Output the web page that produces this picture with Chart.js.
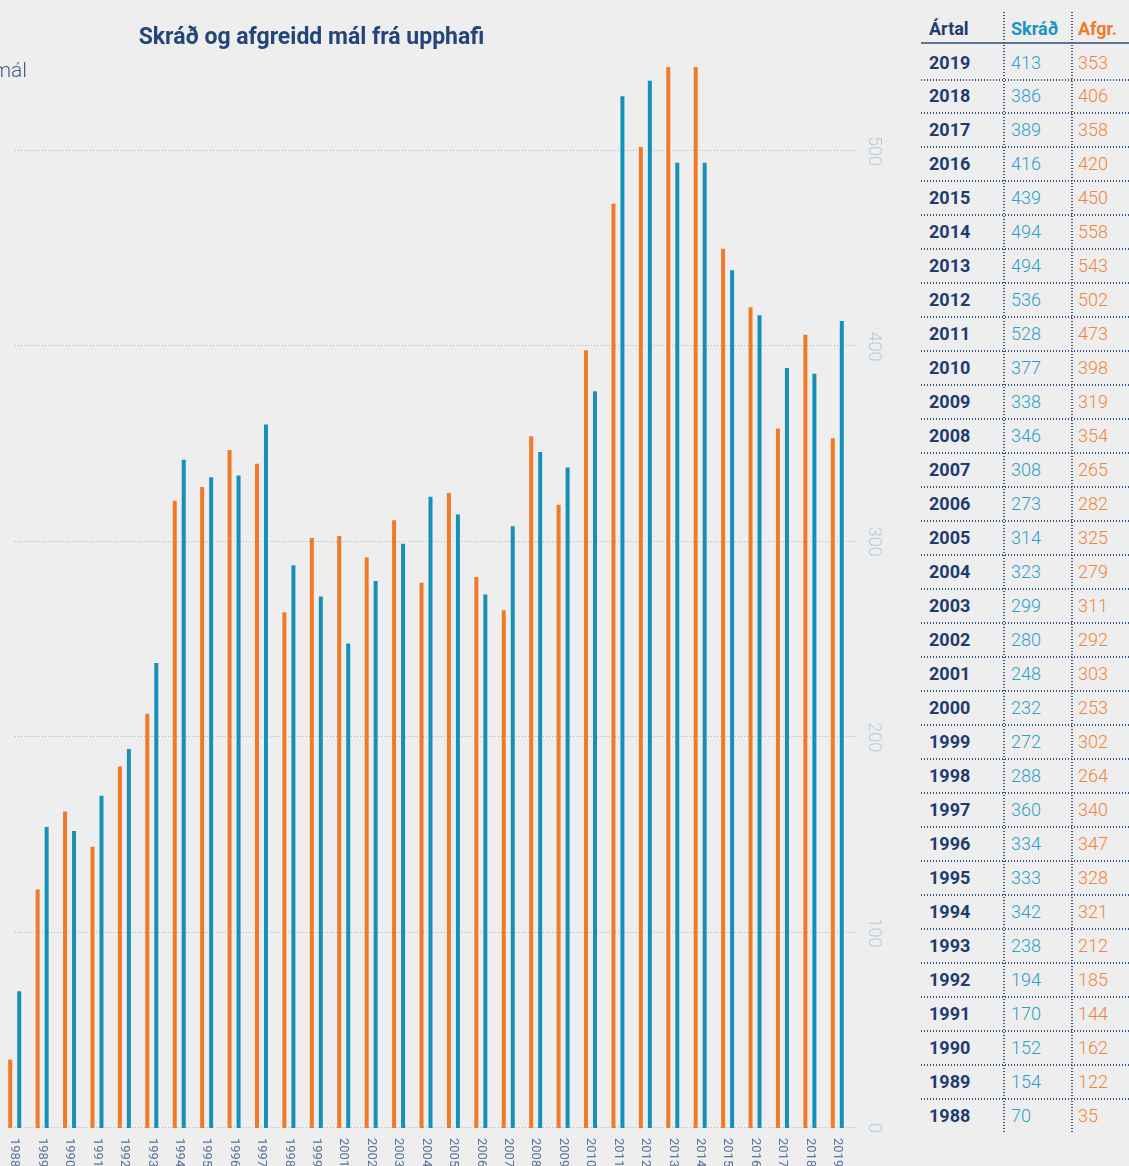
<!DOCTYPE html>
<html>
<head>
<meta charset="utf-8">
<script src="https://cdn.jsdelivr.net/npm/chart.js@4.4.1/dist/chart.umd.min.js"></script>
<style>
  html, body { margin:0; padding:0; background:#eeeeee; width:1129px; height:1166px; overflow:hidden; font-family: Roboto, "Noto Sans", sans-serif; }
  #wrap { position:relative; width:1129px; height:1166px; }
  #chart { position:absolute; left:0; top:0; }
  .abs { position:absolute; white-space:nowrap; }
  #title { left:0; width:623px; top:22px; text-align:center; font-weight:700; font-size:23px; color:#234578; line-height:30px; }
  #unit { right:1102px; top:57px; font-weight:300; font-size:21px; color:#3e5d8c; line-height:26px; }
  .hline { position:absolute; height:2px; background-image:linear-gradient(to right, #3a5685 0, #3a5685 1px, transparent 1px); background-size:3px 2px; background-repeat:repeat-x; }
  .vline { position:absolute; width:2px; background-image:linear-gradient(to bottom, #3a5685 0, #3a5685 1px, transparent 1px); background-size:2px 3px; background-repeat:repeat-y; }
  .cell { position:absolute; font-size:18px; line-height:20px; }
</style>
</head>
<body>
<div id="wrap">
  <canvas id="chart" width="910" height="1166"></canvas>
  <div id="title" class="abs">Skráð og afgreidd mál frá upphafi</div>
  <div id="unit" class="abs">mál</div>
  <div id="table"></div>
</div>
<script>
// ---- Data ----
const years = [1988,1989,1990,1991,1992,1993,1994,1995,1996,1997,1998,1999,2000,2001,2002,2003,2004,2005,2006,2007,2008,2009,2010,2011,2012,2013,2014,2015,2016,2017,2018,2019];
const skrad = [70,154,152,170,194,238,342,333,334,360,288,272,232,248,280,299,323,314,273,308,346,338,377,528,536,494,494,439,416,389,386,413];
const afgr  = [35,122,162,144,185,212,321,328,347,340,264,302,253,303,292,311,279,325,282,265,354,319,398,473,502,543,558,450,420,358,406,353];
const omittedInChart = [2000];
const yTicks = [0,100,200,300,400,500];
const headerLabels = ['Ártal','Skráð','Afgr.'];

const ORANGE = '#f07a28';
const BLUE = '#1590b8';

const chartYears = years.filter(y => !omittedInChart.includes(y));
const chartSkrad = chartYears.map(y => skrad[years.indexOf(y)]);
const chartAfgr  = chartYears.map(y => afgr[years.indexOf(y)]);

const decor = {
  id: 'decor',
  beforeDatasetsDraw(chart) {
    const ctx = chart.ctx, ys = chart.scales.y;
    ctx.save();
    ctx.strokeStyle = '#a3b8c9';
    ctx.lineWidth = 1;
    ctx.setLineDash([1,2]);
    yTicks.forEach(v => {
      const y = Math.round(ys.getPixelForValue(v)) - 0.5;
      ctx.beginPath(); ctx.moveTo(15, y); ctx.lineTo(856, y); ctx.stroke();
    });
    ctx.restore();
  },
  afterDraw(chart) {
    const ctx = chart.ctx, ys = chart.scales.y, xs = chart.scales.x;
    ctx.save();
    ctx.fillStyle = '#b4cbdf';
    ctx.font = '300 18px Roboto';
    ctx.textAlign = 'center'; ctx.textBaseline = 'middle';
    yTicks.forEach(v => {
      const y = ys.getPixelForValue(v);
      ctx.save(); ctx.translate(873, y); ctx.rotate(Math.PI/2); ctx.fillText(String(v), 0, 0); ctx.restore();
    });
    ctx.fillStyle = '#5a7398';
    ctx.font = '13px Roboto';
    ctx.textAlign = 'left'; ctx.textBaseline = 'middle';
    chartYears.forEach((yr, i) => {
      const x = xs.getPixelForValue(i);
      ctx.save(); ctx.translate(x, 1138); ctx.rotate(Math.PI/2); ctx.fillText(String(yr), 0, 0); ctx.restore();
    });
    ctx.restore();
  }
};

new Chart(document.getElementById('chart'), {
  type: 'bar',
  data: {
    labels: chartYears.map(String),
    datasets: [
      { label: 'Afgr.', data: chartAfgr, backgroundColor: ORANGE, categoryPercentage: 0.656, barPercentage: 0.444, clip: 0 },
      { label: 'Skráð', data: chartSkrad, backgroundColor: BLUE, categoryPercentage: 0.656, barPercentage: 0.444, clip: 0 }
    ]
  },
  options: {
    responsive: false, animation: false, devicePixelRatio: 1,
    layout: { padding: { left: 1, right: 59, top: 67, bottom: 38 } },
    plugins: { legend: { display: false }, tooltip: { enabled: false }, title: { display: false } },
    scales: {
      x: { display: false },
      y: { display: false, position: 'right', min: 0, max: 543 }
    }
  },
  plugins: [decor]
});

// ---- Table ----
const table = document.getElementById('table');
function add(el){ table.appendChild(el); return el; }
function div(cls, css, text){ const d = document.createElement('div'); d.className = cls; Object.assign(d.style, css); if (text !== undefined) d.textContent = text; return add(d); }

const colX = [929, 1011, 1078];
const headColors = ['#1e3d6e', '#1a95c0', '#f07a2a'];
const valColors = ['#1e3d6e', '#2ea0c9', '#f0853c'];
headerLabels.forEach((h, j) => {
  div('cell', { left: colX[j] + 'px', top: '19px', color: headColors[j], fontWeight: '700' }, h);
});
div('', { position:'absolute', left:'921px', top:'42px', width:'208px', height:'2px', background:'#5d7596' });
div('vline', { left:'1003px', top:'12px', height:'1120px' });
div('vline', { left:'1071px', top:'12px', height:'1120px' });

const rowH = 33.97;
const rowsDesc = years.map((y, i) => i).reverse();
rowsDesc.forEach((idx, r) => {
  const cy = 62 + rowH * r;
  const top = (cy - 9.5) + 'px';
  div('cell', { left: colX[0] + 'px', top, color: valColors[0], fontWeight: '700' }, String(years[idx]));
  div('cell', { left: colX[1] + 'px', top, color: valColors[1], fontWeight: '300' }, String(skrad[idx]));
  div('cell', { left: colX[2] + 'px', top, color: valColors[2], fontWeight: '300' }, String(afgr[idx]));
  if (r < rowsDesc.length - 1) {
    div('hline', { left: '921px', top: Math.round(79 + rowH * r - 0.5) + 'px', width: '208px' });
  }
});
</script>
</body>
</html>
